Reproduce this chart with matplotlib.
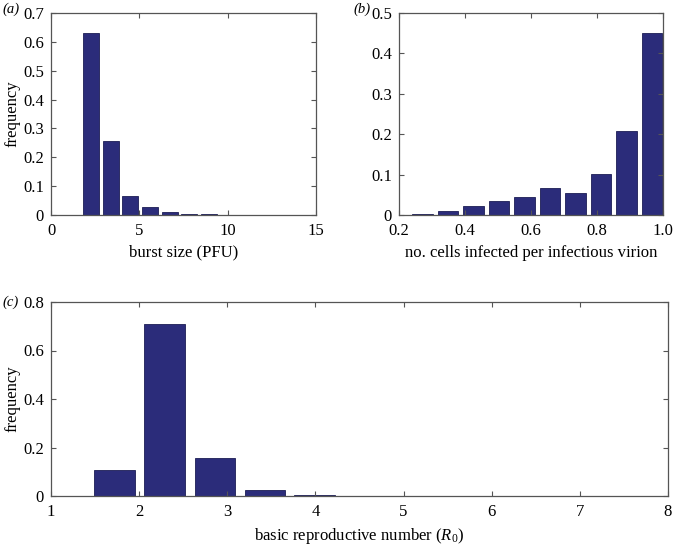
import matplotlib
matplotlib.use('Agg')
import matplotlib.pyplot as plt
import numpy as np

plt.rcParams['font.family'] = ['Liberation Serif', 'DejaVu Serif']
plt.rcParams['mathtext.fontset'] = 'custom'
plt.rcParams['mathtext.rm'] = 'Liberation Serif'
plt.rcParams['mathtext.it'] = 'Liberation Serif:italic'

# (a) burst size histogram
burst_centers = [2.27, 3.38, 4.49, 5.60, 6.72, 7.83, 8.94, 10.05, 11.17, 12.28]
burst_freq = [0.630, 0.258, 0.065, 0.029, 0.011, 0.004, 0.002, 0.001, 0.0005, 0.0003]

# (b) cells infected per infectious virion
cells_centers = [0.271, 0.348, 0.426, 0.503, 0.580, 0.658, 0.735, 0.812, 0.890, 0.967]
cells_freq = [0.002, 0.010, 0.022, 0.034, 0.044, 0.068, 0.055, 0.101, 0.209, 0.451]

# (c) basic reproductive number
r0_centers = [1.72, 2.29, 2.86, 3.43, 3.99, 4.56, 5.13, 5.70, 6.27, 6.84]
r0_freq = [0.108, 0.708, 0.155, 0.023, 0.006, 0.001, 0.0, 0.0, 0.0, 0.0]

bar_col = '#2b2c7a'
edge_col = '#1c1d55'

fig = plt.figure(figsize=(6.74, 5.45), dpi=100)
W, H = 674.0, 545.0

def make_ax(l, r, t, b):
    return fig.add_axes([l / W, 1 - b / H, (r - l) / W, (b - t) / H])

def style(ax):
    ax.tick_params(direction='in', top=True, right=True, labelsize=12,
                   length=3.5, width=0.8, color='#555555')
    ax.tick_params(axis='x', pad=6)
    ax.tick_params(axis='y', pad=5)
    for s in ax.spines.values():
        s.set_color('#555555')
        s.set_linewidth(0.9)

ax1 = make_ax(51, 316, 13, 215)
ax1.bar(burst_centers, burst_freq, width=0.9, color=bar_col, edgecolor=edge_col, linewidth=0.6)
ax1.set_xlim(0, 15)
ax1.set_ylim(0, 0.7)
ax1.set_xticks([0, 5, 10, 15])
ax1.set_yticks(np.arange(0, 0.71, 0.1))
ax1.set_yticklabels(['0', '0.1', '0.2', '0.3', '0.4', '0.5', '0.6', '0.7'])
ax1.set_xlabel('burst size (PFU)', fontsize=12, labelpad=4)
ax1.set_ylabel('frequency', fontsize=12, labelpad=2)
style(ax1)
fig.text(2 / W, 1 - 9 / H, '(a)', fontsize=10.5, style='italic', va='center')

ax2 = make_ax(399, 663, 13, 215)
ax2.bar(cells_centers, cells_freq, width=0.062, color=bar_col, edgecolor=edge_col, linewidth=0.6)
ax2.set_xlim(0.2, 1.0)
ax2.set_ylim(0, 0.5)
ax2.set_xticks([0.2, 0.4, 0.6, 0.8, 1.0])
ax2.set_xticklabels(['0.2', '0.4', '0.6', '0.8', '1.0'])
ax2.set_yticks(np.arange(0, 0.51, 0.1))
ax2.set_yticklabels(['0', '0.1', '0.2', '0.3', '0.4', '0.5'])
ax2.set_xlabel('no. cells infected per infectious virion', fontsize=12, labelpad=4)
style(ax2)
fig.text(353 / W, 1 - 9 / H, '(b)', fontsize=10.5, style='italic', va='center')

ax3 = make_ax(51, 668, 302, 496)
ax3.bar(r0_centers, r0_freq, width=0.46, color=bar_col, edgecolor=edge_col, linewidth=0.6)
ax3.set_xlim(1, 8)
ax3.set_ylim(0, 0.8)
ax3.set_xticks(range(1, 9))
ax3.set_yticks([0, 0.2, 0.4, 0.6, 0.8])
ax3.set_yticklabels(['0', '0.2', '0.4', '0.6', '0.8'])
ax3.set_xlabel('basic reproductive number ($R_0$)', fontsize=12, labelpad=4)
ax3.set_ylabel('frequency', fontsize=12, labelpad=2)
style(ax3)
fig.text(2 / W, 1 - 302 / H, '(c)', fontsize=10.5, style='italic', va='center')

fig.savefig('out.png', dpi=100)
